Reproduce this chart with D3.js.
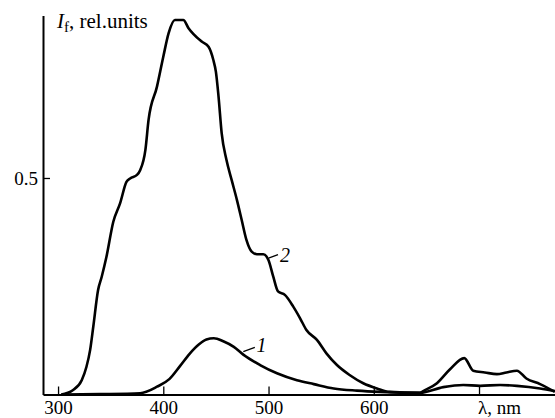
<!DOCTYPE html>
<html>
<head>
<meta charset="utf-8">
<script src="https://cdn.jsdelivr.net/npm/d3@7.9.0/dist/d3.min.js"></script>
<style>
  body { margin: 0; background: #fff; }
  svg { display: block; }
</style>
</head>
<body>
<svg id="chart" width="555" height="418"></svg>
<script>
// spectrum 1 (wavelength nm, intensity)
const wl1 = [305, 340, 378, 394, 406, 416, 425, 434, 441, 448, 457, 467, 476, 492, 508, 527, 543, 562, 584, 606, 644, 666, 685, 701, 720, 736, 758, 772];
const int1 = [0, 0.001, 0.003, 0.018, 0.036, 0.066, 0.094, 0.116, 0.127, 0.13, 0.123, 0.11, 0.092, 0.068, 0.049, 0.033, 0.024, 0.014, 0.009, 0.006, 0.004, 0.017, 0.022, 0.02, 0.022, 0.02, 0.014, 0.008];

// spectrum 2
const wl2 = [303, 314, 322.5, 327, 330.5, 333.5, 338, 341.5, 346, 352.5, 359, 365, 368.5, 375, 378, 383, 386, 394, 400, 405, 411, 419, 424, 436.5, 443, 447.5, 450, 452.5, 455.5, 460, 465, 470, 474.5, 479, 484, 489, 495, 500, 504.5, 509, 515.5, 523.5, 530, 536, 546, 555, 565, 577, 590, 603, 615, 644, 647, 660, 672, 686, 694.5, 705.5, 717, 726, 736, 745, 758, 772];
const int2 = [0, 0.01, 0.033, 0.064, 0.103, 0.157, 0.241, 0.272, 0.318, 0.399, 0.442, 0.491, 0.499, 0.507, 0.518, 0.565, 0.634, 0.711, 0.78, 0.834, 0.865, 0.865, 0.846, 0.815, 0.803, 0.773, 0.745, 0.688, 0.603, 0.542, 0.495, 0.449, 0.403, 0.357, 0.33, 0.324, 0.324, 0.31, 0.272, 0.238, 0.23, 0.203, 0.176, 0.149, 0.126, 0.095, 0.068, 0.045, 0.026, 0.014, 0.006, 0.004, 0.008, 0.026, 0.057, 0.084, 0.055, 0.051, 0.047, 0.051, 0.055, 0.037, 0.024, 0.006];

const xTicks = [300, 400, 500, 600, 700];
const xTickLabels = ['300', '400', '500', '600', ''];
const yTicks = [0.5];

// curve labels: leader from/to and text position, in data units
const curveLabels = [
  { text: '1', from: [476, 0.099], to: [487, 0.109], at: [488.5, 0.098] },
  { text: '2', from: [500, 0.315], to: [509, 0.323], at: [511, 0.306] }
];

const svg = d3.select('#chart');

const x = d3.scaleLinear().domain([285.7, 772.2]).range([43, 555]);
const y = d3.scaleLinear().domain([0, 0.875]).range([394.5, 15.6]);

const serif = 'Liberation Serif, Times New Roman, Times, Tinos, Nimbus Roman, Noto Serif, DejaVu Serif, FreeSerif, serif';

// axes
const xAxis = d3.axisBottom(x)
  .tickValues(xTicks)
  .tickFormat((d, i) => xTickLabels[i])
  .tickSizeInner(-8)
  .tickSizeOuter(0)
  .tickPadding(6);

const yAxis = d3.axisLeft(y)
  .tickValues(yTicks)
  .tickFormat(d3.format('.1f'))
  .tickSizeInner(-7)
  .tickSizeOuter(0)
  .tickPadding(5);

const gx = svg.append('g').attr('transform', `translate(0,${y(0)})`).call(xAxis);
const gy = svg.append('g').attr('transform', `translate(${x(285.7)},0)`).call(yAxis);

[gx, gy].forEach(g => {
  g.attr('font-family', serif).attr('font-size', 19);
  g.select('.domain').attr('stroke', '#000').attr('stroke-width', 2);
  g.selectAll('.tick line').attr('stroke', '#000').attr('stroke-width', 1.3);
  g.selectAll('.tick text').attr('fill', '#000');
});

// curves
const line = d3.line()
  .x(d => x(d[0]))
  .y(d => y(d[1]))
  .curve(d3.curveMonotoneX);

[[wl1, int1], [wl2, int2]].forEach(([wl, vals]) => {
  svg.append('path')
    .datum(wl.map((w, i) => [w, vals[i]]))
    .attr('fill', 'none')
    .attr('stroke', '#000')
    .attr('stroke-width', 2.6)
    .attr('stroke-linejoin', 'round')
    .attr('d', line);
});

// curve numbers with leaders
curveLabels.forEach(c => {
  svg.append('line')
    .attr('x1', x(c.from[0])).attr('y1', y(c.from[1]))
    .attr('x2', x(c.to[0])).attr('y2', y(c.to[1]))
    .attr('stroke', '#000').attr('stroke-width', 1.3);
  svg.append('text')
    .attr('x', x(c.at[0])).attr('y', y(c.at[1]))
    .attr('font-family', serif)
    .attr('font-size', 20)
    .attr('font-style', 'italic')
    .text(c.text);
});

// axis titles
const yTitle = svg.append('text')
  .attr('x', 57).attr('y', 28)
  .attr('font-family', serif)
  .attr('font-size', 21);
yTitle.append('tspan').attr('font-style', 'italic').text('I');
yTitle.append('tspan').attr('dy', 4).attr('font-size', 15).text('f');
yTitle.append('tspan').attr('dy', -4).text(', rel.units');

svg.append('text')
  .attr('x', 478).attr('y', 414)
  .attr('font-family', serif)
  .attr('font-size', 19)
  .text('λ, nm');
</script>
</body>
</html>
